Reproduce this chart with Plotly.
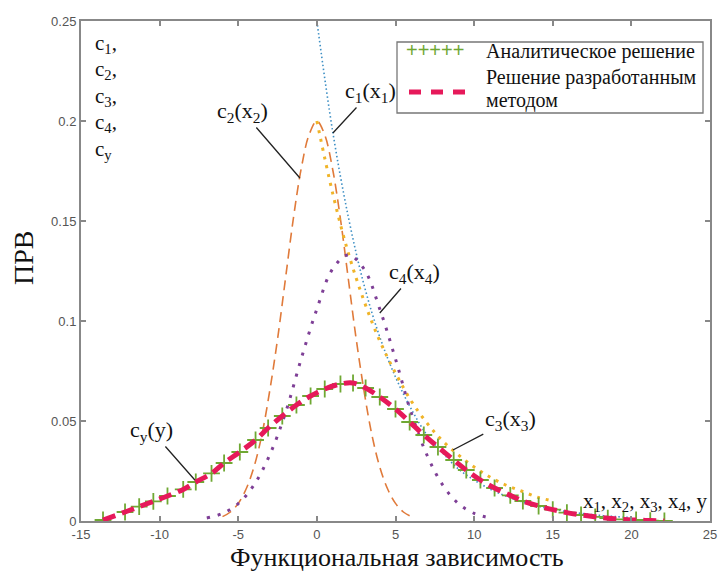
import plotly.graph_objects as go

# ---- data ----
c1_x = [0, 1, 2, 3, 4, 5, 6, 7, 8, 9, 10, 11, 12, 13, 14, 15, 16, 17, 18, 19, 20]
c1_pdf = [0.25, 0.195, 0.152, 0.118, 0.092, 0.072, 0.056, 0.043, 0.034, 0.026, 0.0205,
          0.016, 0.0125, 0.0097, 0.0075, 0.0059, 0.0046, 0.0036, 0.0028, 0.0022, 0.0017]

c2_x = [-6, -5.5, -5, -4.5, -4, -3.5, -3, -2.5, -2, -1.5, -1, -0.5, 0,
        0.5, 1, 1.5, 2, 2.5, 3, 3.5, 4, 4.5, 5, 5.5, 6]
c2_pdf = [0.0022, 0.0045, 0.0088, 0.016, 0.027, 0.043, 0.065, 0.091, 0.121, 0.151, 0.176, 0.193, 0.2,
          0.193, 0.176, 0.151, 0.121, 0.091, 0.065, 0.043, 0.027, 0.016, 0.0088, 0.0045, 0.0022]

c3_x = [0, 1, 2, 3, 4, 5, 6, 7, 8, 9, 10, 11, 12, 13, 14, 15]
c3_pdf = [0.2, 0.164, 0.134, 0.11, 0.09, 0.074, 0.06, 0.049, 0.04, 0.033, 0.027,
          0.022, 0.018, 0.015, 0.012, 0.01]

c4_x = [-7, -6, -5, -4, -3, -2, -1, 0, 1, 2, 3, 4, 5, 6, 7, 8, 9, 10, 11]
c4_pdf = [0.0015, 0.0038, 0.0087, 0.018, 0.033, 0.054, 0.081, 0.106, 0.126, 0.133,
          0.126, 0.106, 0.081, 0.054, 0.033, 0.018, 0.0087, 0.0038, 0.0015]

y_x = [-13.6, -12.2, -11.3, -10.4, -9.5, -8.5, -7.7, -6.7, -5.9, -4.9, -3.9, -3.1, -2.2, -1.3,
       -0.4, 0.5, 1.5, 2.3, 3.1, 4.0, 5.0, 5.9, 6.8, 7.7, 8.7, 9.5, 10.4, 11.3, 12.3, 13.1,
       14.1, 15.0, 15.9, 16.8, 17.7, 18.5, 19.5, 20.3, 21.2, 22.1]
y_pdf = [0.0005, 0.0045, 0.0072, 0.0098, 0.0125, 0.0158, 0.0195, 0.0238, 0.029, 0.0345, 0.0405,
         0.0465, 0.0525, 0.058, 0.0625, 0.066, 0.0685, 0.069, 0.0665, 0.062, 0.056, 0.0495,
         0.043, 0.037, 0.0305, 0.0255, 0.0205, 0.0165, 0.0128, 0.0100, 0.0075, 0.0057, 0.0042,
         0.003, 0.0021, 0.0014, 0.0008, 0.0005, 0.0002, 0.0]

x_ticks = [-15, -10, -5, 0, 5, 10, 15, 20, 25]
y_ticks = [0, 0.05, 0.1, 0.15, 0.2, 0.25]
y_tick_labels = ["0", "0.05", "0.1", "0.15", "0.2", "0.25"]

legend_labels = ["Аналитическое решение", "Решение разработанным", "методом"]
x_title = "Функциональная зависимость"
y_title = "ПРВ"

SERIF = "Liberation Serif"
SANS = "Liberation Sans"

fig = go.Figure()

fig.add_trace(go.Scatter(x=c1_x, y=c1_pdf, mode="lines", line_shape="spline",
                         line=dict(color="#3d8fc4", width=1.6, dash="1.5px,2.5px"),
                         name="c1(x1)", showlegend=False))
fig.add_trace(go.Scatter(x=c2_x, y=c2_pdf, mode="lines", line_shape="spline",
                         line=dict(color="#e07a3a", width=1.6, dash="10px,6px"),
                         name="c2(x2)", showlegend=False))
fig.add_trace(go.Scatter(x=c3_x, y=c3_pdf, mode="lines", line_shape="spline",
                         line=dict(color="#f0b428", width=3, dash="3px,6px"),
                         name="c3(x3)", showlegend=False))
fig.add_trace(go.Scatter(x=c4_x, y=c4_pdf, mode="lines", line_shape="spline",
                         line=dict(color="#7e3f96", width=3, dash="3px,8px"),
                         name="c4(x4)", showlegend=False))
fig.add_trace(go.Scatter(x=y_x, y=y_pdf, mode="markers",
                         marker=dict(symbol="cross-thin", size=12,
                                     line=dict(color="#6fa833", width=1.8)),
                         name=legend_labels[0], showlegend=False))
fig.add_trace(go.Scatter(x=y_x, y=y_pdf, mode="lines", line_shape="spline",
                         line=dict(color="#e6195a", width=5, dash="13px,7px"),
                         name="Решение разработанным методом", showlegend=False))


# page pixel -> paper coords (plot area spans page x 81..710, y 21..521)
def px(xp):
    return (xp - 81) / 629.0


def py(yp):
    return (521 - yp) / 500.0


ann = []


def pointer(text, tx, ty, ptx, pty):
    ann.append(dict(x=ptx, y=pty, ax=tx, ay=ty, xref="x", yref="y", axref="x", ayref="y",
                    text=text, showarrow=True, arrowhead=0, arrowwidth=1.3,
                    arrowcolor="#222", font=dict(family=SERIF, size=22, color="#111")))


pointer("c<sub>2</sub>(x<sub>2</sub>)", -4.7, 0.2045, -1.08, 0.1715)
pointer("c<sub>1</sub>(x<sub>1</sub>)", 3.43, 0.2145, 1.02, 0.194)
pointer("c<sub>4</sub>(x<sub>4</sub>)", 6.2, 0.124, 4.0, 0.104)
pointer("c<sub>3</sub>(x<sub>3</sub>)", 12.3, 0.0505, 8.65, 0.0355)
pointer("c<sub>y</sub>(y)", -10.5, 0.045, -7.76, 0.0205)

stack = ["c<sub>1</sub>,", "c<sub>2</sub>,", "c<sub>3</sub>,", "c<sub>4</sub>,", "c<sub>y</sub>"]
for i, t in enumerate(stack):
    ann.append(dict(x=px(93), y=py(44 + 26.5 * i), xref="paper", yref="paper", text=t,
                    showarrow=False, xanchor="left", yanchor="middle",
                    font=dict(family=SERIF, size=21, color="#111")))

ann.append(dict(x=px(581), y=py(502), xref="paper", yref="paper",
                text="x<sub>1</sub>, x<sub>2</sub>, x<sub>3</sub>, x<sub>4</sub>, y",
                showarrow=False, xanchor="left", yanchor="middle",
                font=dict(family=SERIF, size=21, color="#111")))

# axis titles
ann.append(dict(x=px(397), y=py(541), xref="paper", yref="paper", text=x_title,
                showarrow=False, xanchor="center", yanchor="top",
                font=dict(family=SERIF, size=26, color="#111")))
ann.append(dict(x=px(23), y=py(258), xref="paper", yref="paper", text=y_title,
                showarrow=False, xanchor="center", yanchor="middle", textangle=-90,
                font=dict(family=SERIF, size=28, color="#111")))

# manual legend
shapes = [dict(type="rect", xref="paper", yref="paper", x0=px(397), x1=px(703),
               y0=py(113), y1=py(42), line=dict(color="#777", width=1.3),
               fillcolor="white", layer="above")]
shapes.append(dict(type="line", xref="paper", yref="paper", x0=px(409), x1=px(470),
                   y0=py(92), y1=py(92), line=dict(color="#e6195a", width=5, dash="12px,10px"),
                   layer="above"))
ann.append(dict(x=px(404), y=py(50), xref="paper", yref="paper", text="+++++",
                showarrow=False, xanchor="left", yanchor="middle",
                font=dict(family=SANS, size=20, color="#6fa833")))
ann.append(dict(x=px(484), y=py(51), xref="paper", yref="paper", text=legend_labels[0],
                showarrow=False, xanchor="left", yanchor="middle",
                font=dict(family=SERIF, size=20, color="#111")))
ann.append(dict(x=px(484), y=py(77), xref="paper", yref="paper", text=legend_labels[1],
                showarrow=False, xanchor="left", yanchor="middle",
                font=dict(family=SERIF, size=20, color="#111")))
ann.append(dict(x=px(484), y=py(100), xref="paper", yref="paper", text=legend_labels[2],
                showarrow=False, xanchor="left", yanchor="middle",
                font=dict(family=SERIF, size=20, color="#111")))

fig.update_layout(
    width=721, height=572,
    margin=dict(l=81, r=11, t=21, b=51, autoexpand=False),
    paper_bgcolor="white", plot_bgcolor="white",
    xaxis=dict(range=[-15, 25], tickvals=x_ticks, ticktext=[str(v) for v in x_ticks],
               automargin=False,
               showgrid=False, zeroline=False, showline=True, mirror="ticks",
               linecolor="#888", linewidth=2, ticks="inside", ticklen=5, tickcolor="#888",
               tickwidth=1.5, tickfont=dict(family=SANS, size=13, color="#555")),
    yaxis=dict(range=[0, 0.25], tickvals=y_ticks, ticktext=y_tick_labels,
               automargin=False,
               showgrid=False, zeroline=False, showline=True, mirror="ticks",
               linecolor="#888", linewidth=2, ticks="inside", ticklen=5, tickcolor="#888",
               tickwidth=1.5, tickfont=dict(family=SANS, size=13, color="#555")),
    showlegend=False,
    annotations=ann, shapes=shapes,
)

# remove the default 8px page margin so the figure fills the window exactly
fig.write_html("out.html", config={"displayModeBar": False},
               post_script="document.body.style.margin='0';document.body.style.overflow='hidden';")
